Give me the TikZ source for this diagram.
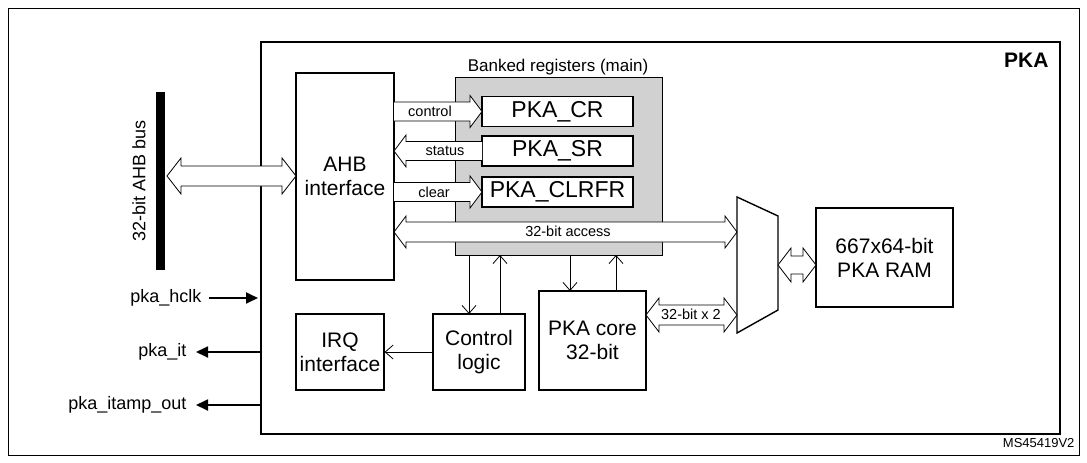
\documentclass[tikz,border=0pt]{standalone}
\usepackage{fontspec}
\setmainfont{Liberation Sans}
\usetikzlibrary{arrows.meta,calc}
\newcommand\dblarrow[6]{% x1 x2 y w H h
\draw[line width=0.8pt,fill=white] (#1,#3) -- ({#1+#6},{#3-#5}) -- ({#1+#6},{#3-#4}) -- ({#2-#6},{#3-#4}) -- ({#2-#6},{#3-#5}) -- (#2,#3) -- ({#2-#6},{#3+#5}) -- ({#2-#6},{#3+#4}) -- ({#1+#6},{#3+#4}) -- ({#1+#6},{#3+#5}) -- cycle;}
\newcommand\rarrow[6]{% from x1 to x2 pointing right
\draw[line width=0.8pt,fill=white] (#1,{#3-#4}) -- ({#2-#6},{#3-#4}) -- ({#2-#6},{#3-#5}) -- (#2,#3) -- ({#2-#6},{#3+#5}) -- ({#2-#6},{#3+#4}) -- (#1,{#3+#4});}
\newcommand\larrow[6]{% from x2 to x1 pointing left
\draw[line width=0.8pt,fill=white] (#2,{#3-#4}) -- ({#1+#6},{#3-#4}) -- ({#1+#6},{#3-#5}) -- (#1,#3) -- ({#1+#6},{#3+#5}) -- ({#1+#6},{#3+#4}) -- (#2,{#3+#4});}
\begin{document}
\begin{tikzpicture}[x=1pt,y=-1pt,
  blk/.style={draw,line width=1.2pt,fill=white,inner sep=0pt,align=center,font=\fontsize{21}{24}\selectfont},
  reg/.style={draw,line width=1.2pt,fill=white,minimum width=151pt,minimum height=30pt,font=\fontsize{23}{26}\selectfont},
  lab/.style={font=\fontsize{14.5}{16}\selectfont,inner sep=1pt},
  sig/.style={line width=0.8pt,-{Straight Barb[length=8pt,width=14pt]}},
  pin/.style={line width=1.8pt,-{Triangle[length=12pt,width=11pt]}},
  pinlab/.style={font=\fontsize{18}{20}\selectfont,anchor=east}]
\useasboundingbox (0,0) rectangle (1087,463);
\draw[line width=0.6pt] (8,8) rectangle (1079,455);
\draw[line width=2pt] (261,42) rectangle (1060,434);
\node[font=\fontsize{21}{24}\selectfont\bfseries,anchor=north east] (pka) at (1052,50) {PKA};
% banked registers
\node[draw,line width=1.2pt,fill=black!18,minimum width=207pt,minimum height=178pt,anchor=north west,inner sep=0pt] (bank) at (455,77) {};
\node[font=\fontsize{17}{20}\selectfont,anchor=south,inner sep=1pt] (banklab) at (558,76) {Banked registers (main)};
\node[reg] (cr) at (557.5,111.5) {PKA\_CR};
\node[reg] (sr) at (557.5,151) {PKA\_SR};
\node[reg] (clr) at (557.5,192) {PKA\_CLRFR};
% AHB interface
\node[blk,minimum width=98pt,minimum height=207pt] (ahb) at (345,176.5) {AHB\\interface};
% register arrows
\rarrow{394}{482}{111.5}{9.5}{16}{12}
\node[lab] (lc) at (430,111.5) {control};
\larrow{394}{482}{151}{9.5}{16}{12}
\node[lab] (ls) at (445,151) {status};
\rarrow{394}{482}{192}{9.5}{16}{12}
\node[lab] (lcl) at (434,192) {clear};
\dblarrow{394}{737}{232}{10}{16}{12}
\node[lab] (lacc) at (568,231) {32-bit access};
% mux
\draw[line width=1.4pt,fill=white] (737,197) -- (778,216) -- (778,310) -- (737,333) -- cycle;
\coordinate (mux) at (757,265);
% RAM
\node[blk,minimum width=137pt,minimum height=99pt] (ram) at (884.5,257.5) {667x64-bit\\PKA RAM};
\dblarrow{778}{816}{265}{9}{17}{13}
% lower blocks
\node[blk,minimum width=88pt,minimum height=76pt] (irq) at (340,352) {IRQ\\interface};
\node[blk,minimum width=92pt,minimum height=76pt] (ctl) at (479,352) {Control\\logic};
\node[blk,minimum width=107pt,minimum height=99pt] (core) at (592.5,340.5) {PKA core\\32-bit};
\dblarrow{646}{737}{315}{10}{17}{13}
\node[lab] (lx2) at (691,314) {32-bit x 2};
% thin signals
\draw[sig] (469,255) -- (469,314);
\draw[sig] (500,314) -- (500,255);
\draw[sig] (570,255) -- (570,291);
\draw[sig] (616,291) -- (616,255);
\draw[sig] (ctl.west) -- (irq.east);
% AHB bus
\draw[line width=9pt] (160,92) -- (160,270);
\node[font=\fontsize{18}{20}\selectfont,rotate=90] (buslab) at (139,181) {32-bit AHB bus};
\dblarrow{167}{296}{176}{10}{18}{14}
% pins
\node[pinlab] (hclk) at (205,298) {pka\_hclk};
\node[pinlab] (it) at (190,352) {pka\_it};
\node[pinlab] (itamp) at (190,405) {pka\_itamp\_out};
\draw[pin] (209,298) -- (258,298);
\draw[pin] (261,352) -- (196,352);
\draw[pin] (261,405) -- (196,405);
\node[font=\fontsize{13}{15}\selectfont,anchor=east] (ms) at (1078,443) {MS45419V2};
\end{tikzpicture}
\end{document}
